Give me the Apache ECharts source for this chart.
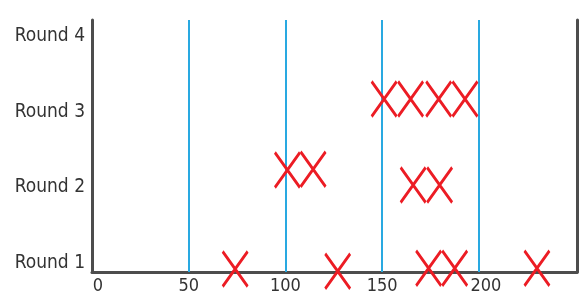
<!DOCTYPE html>
<html><head><meta charset="utf-8">
<script src="https://cdn.jsdelivr.net/npm/echarts@6/dist/echarts.min.js"></script>
<style>html,body{margin:0;padding:0;background:#fff}#c{width:588px;height:306px}</style>
</head><body><div id="c"></div>
<script>
// Data
const roundLabels = ['Round 1', 'Round 2', 'Round 3', 'Round 4'];
const roundValues = [1, 2, 3, 4];
const xTicks = [0, 50, 100, 150, 200];
const gridLines = [50, 100, 150, 200];
const round1X = [74, 127, 174, 187.5, 230];
const round1Y = [0.92, 0.89, 0.93, 0.93, 0.93];
const round2X = [101, 114.3, 166, 179.7];
const round2Y = [2.23, 2.24, 2.03, 2.03];
const round3X = [151, 164.7, 179.2, 192.8];
const round3Y = [3.167, 3.167, 3.167, 3.167];

const pts = [];
[[round1X, round1Y], [round2X, round2Y], [round3X, round3Y]].forEach(([xs, ys]) => {
  xs.forEach((x, i) => pts.push([x, ys[i]]));
});

const font = '"Liberation Sans Narrow", "DejaVu Sans Condensed", "Liberation Sans", sans-serif';
const axisColor = '#4d4d4d';
const chart = echarts.init(document.getElementById('c'), null, {renderer: 'canvas'});
chart.setOption({
  animation: false,
  grid: {left: 92, right: 11, top: 20, bottom: 34, containLabel: false},
  xAxis: {
    type: 'value', min: 0, max: 250.7, interval: 50,
    axisLine: {show: true, lineStyle: {color: axisColor, width: 3}},
    axisTick: {show: false},
    splitLine: {show: false},
    axisLabel: {
      margin: 5, color: '#333', fontFamily: font, fontSize: 18,
      showMaxLabel: false,
      formatter: v => xTicks.indexOf(v) < 0 ? '' : (v === 0 ? '{s|' + v + '}' : (v === 200 ? '{t|' + v + '}' : '{n|' + v + '}')),
      rich: {
        s: {fontFamily: font, fontSize: 18, color: '#333', padding: [0, 0, 0, 12]},
        t: {fontFamily: font, fontSize: 18, color: '#333', padding: [0, 0, 0, 14]},
        n: {fontFamily: font, fontSize: 18, color: '#333'}
      }
    }
  },
  yAxis: [{
    type: 'value', min: 0.881, max: 4.211,
    axisLine: {show: true, lineStyle: {color: axisColor, width: 3}},
    axisTick: {show: false},
    splitLine: {show: false},
    axisLabel: {
      customValues: roundValues,
      margin: 7, color: '#333', fontFamily: font, fontSize: 19,
      formatter: v => roundLabels[roundValues.indexOf(Math.round(v))] || ''
    }
  }, {
    type: 'value', min: 0.881, max: 4.211, position: 'right',
    axisLine: {show: true, lineStyle: {color: axisColor, width: 3}},
    axisTick: {show: false}, axisLabel: {show: false}, splitLine: {show: false}
  }],
  series: [{
    type: 'scatter',
    data: pts,
    clip: false,
    symbol: 'path://M0 0L26 36M26 0L0 36',
    symbolSize: [25, 35],
    itemStyle: {color: 'none', borderColor: '#ec1c24', borderWidth: 3, opacity: 1},
    z: 5,
    markLine: {
      silent: true, symbol: 'none', label: {show: false},
      lineStyle: {color: '#29a9e1', width: 2, type: 'solid'},
      data: gridLines.map(v => ({xAxis: v}))
    }
  }]
});
</script></body></html>
